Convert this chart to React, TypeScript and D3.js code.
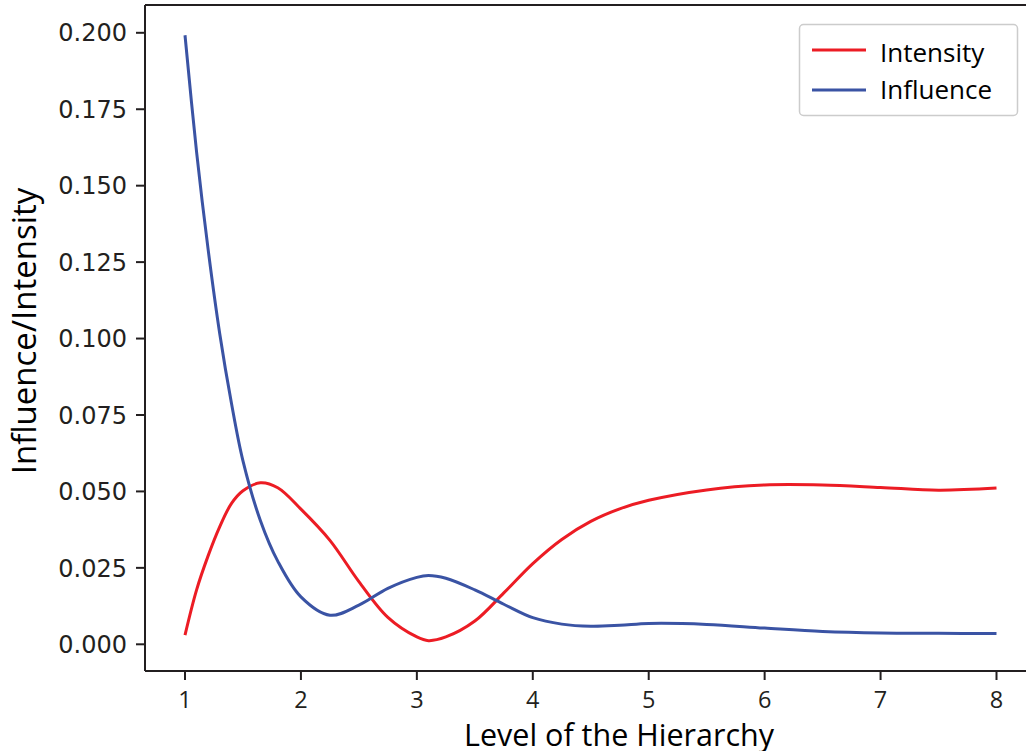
import React from "react";
import * as d3 from "d3";

const levels = [1, 1.1, 1.2, 1.3, 1.4, 1.5, 1.65, 1.8, 2, 2.25, 2.5, 2.75, 3, 3.1, 3.25, 3.5, 3.75, 4, 4.25, 4.5, 4.75, 5, 5.5, 6, 6.5, 7, 7.5, 8];
const intensity = [0.0030, 0.0178, 0.0290, 0.0385, 0.0460, 0.0502, 0.0528, 0.0512, 0.0442, 0.0340, 0.0205, 0.0088, 0.0024, 0.0012, 0.0024, 0.0076, 0.0168, 0.0264, 0.0343, 0.0402, 0.0443, 0.0471, 0.0505, 0.0521, 0.0521, 0.0513, 0.0504, 0.0511];
const influence = [0.1992, 0.1610, 0.1290, 0.1015, 0.0790, 0.0600, 0.0405, 0.0272, 0.0155, 0.0095, 0.0128, 0.0183, 0.0219, 0.0225, 0.0216, 0.0178, 0.0131, 0.0087, 0.0066, 0.0059, 0.0062, 0.0068, 0.0065, 0.0053, 0.0042, 0.0037, 0.0036, 0.0035];
const xTicks = [1, 2, 3, 4, 5, 6, 7, 8];
const yTicks = [0, 0.025, 0.05, 0.075, 0.1, 0.125, 0.15, 0.175, 0.2];
const seriesNames = ["Intensity", "Influence"];
const seriesColors = ["#ec1c24", "#3a53a4"];

const W = 1026;
const H = 751;
const left = 145;
const top = 5;
const bottom = 671;
const right = 1060;

export default function App() {
  const x = d3.scaleLinear().domain([1, 8]).range([185, 996.5]);
  const y = d3.scaleLinear().domain([0, 0.2]).range([644.3, 32.8]);
  const line = d3
    .line<number>()
    .x((_, i) => x(levels[i]))
    .y((d) => y(d))
    .curve(d3.curveCatmullRom.alpha(0.5));
  const series = [intensity, influence];
  const sans = "'Open Sans', sans-serif";
  return (
    <svg
      width={W}
      height={H}
      style={{ position: "absolute", left: 0, top: 0, background: "#fff" }}
    >
      <rect x={0} y={0} width={W} height={H} fill="#fff" />
      {series.map((s, i) => (
        <path
          key={i}
          d={line(s) || ""}
          fill="none"
          stroke={seriesColors[i]}
          strokeWidth={3}
        />
      ))}
      {/* spines */}
      <line x1={left} x2={left} y1={top} y2={bottom} stroke="#231f20" strokeWidth={2} />
      <line x1={left} x2={right} y1={bottom} y2={bottom} stroke="#231f20" strokeWidth={2} />
      <line x1={left} x2={right} y1={top} y2={top} stroke="#231f20" strokeWidth={2} />
      {/* y ticks */}
      {yTicks.map((t) => (
        <g key={t}>
          <line x1={left - 9} x2={left} y1={y(t)} y2={y(t)} stroke="#231f20" strokeWidth={2} />
          <text
            x={127}
            y={y(t)}
            dy="0.36em"
            textAnchor="end"
            fontFamily="'DejaVu Sans', sans-serif"
            fontSize={24}
            fill="#231f20"
          >
            {d3.format(".3f")(t)}
          </text>
        </g>
      ))}
      {/* x ticks */}
      {xTicks.map((t) => (
        <g key={t}>
          <line x1={x(t)} x2={x(t)} y1={bottom} y2={bottom + 9} stroke="#231f20" strokeWidth={2} />
          <text
            x={x(t)}
            y={708}
            textAnchor="middle"
            fontFamily={sans}
            fontSize={23.5}
            fill="#231f20"
          >
            {t}
          </text>
        </g>
      ))}
      <text
        x={619}
        y={746}
        textAnchor="middle"
        fontFamily={sans}
        fontSize={30.5}
        fill="#000"
      >
        Level of the Hierarchy
      </text>
      <text
        transform={`translate(36,331) rotate(-90)`}
        textAnchor="middle"
        fontFamily={sans}
        fontSize={33}
        fill="#000"
      >
        Influence/Intensity
      </text>
      {/* legend */}
      <rect
        x={799.5}
        y={24.5}
        width={218}
        height={91}
        rx={4}
        fill="#fff"
        stroke="#cccccc"
        strokeWidth={1.5}
      />
      {seriesNames.map((n, i) => (
        <g key={n}>
          <line
            x1={812}
            x2={866}
            y1={50 + i * 40}
            y2={50 + i * 40}
            stroke={seriesColors[i]}
            strokeWidth={3}
          />
          <text
            x={880}
            y={61.5 + i * 37}
            fontFamily={sans}
            fontSize={26}
            fill="#000"
          >
            {n}
          </text>
        </g>
      ))}
    </svg>
  );
}
